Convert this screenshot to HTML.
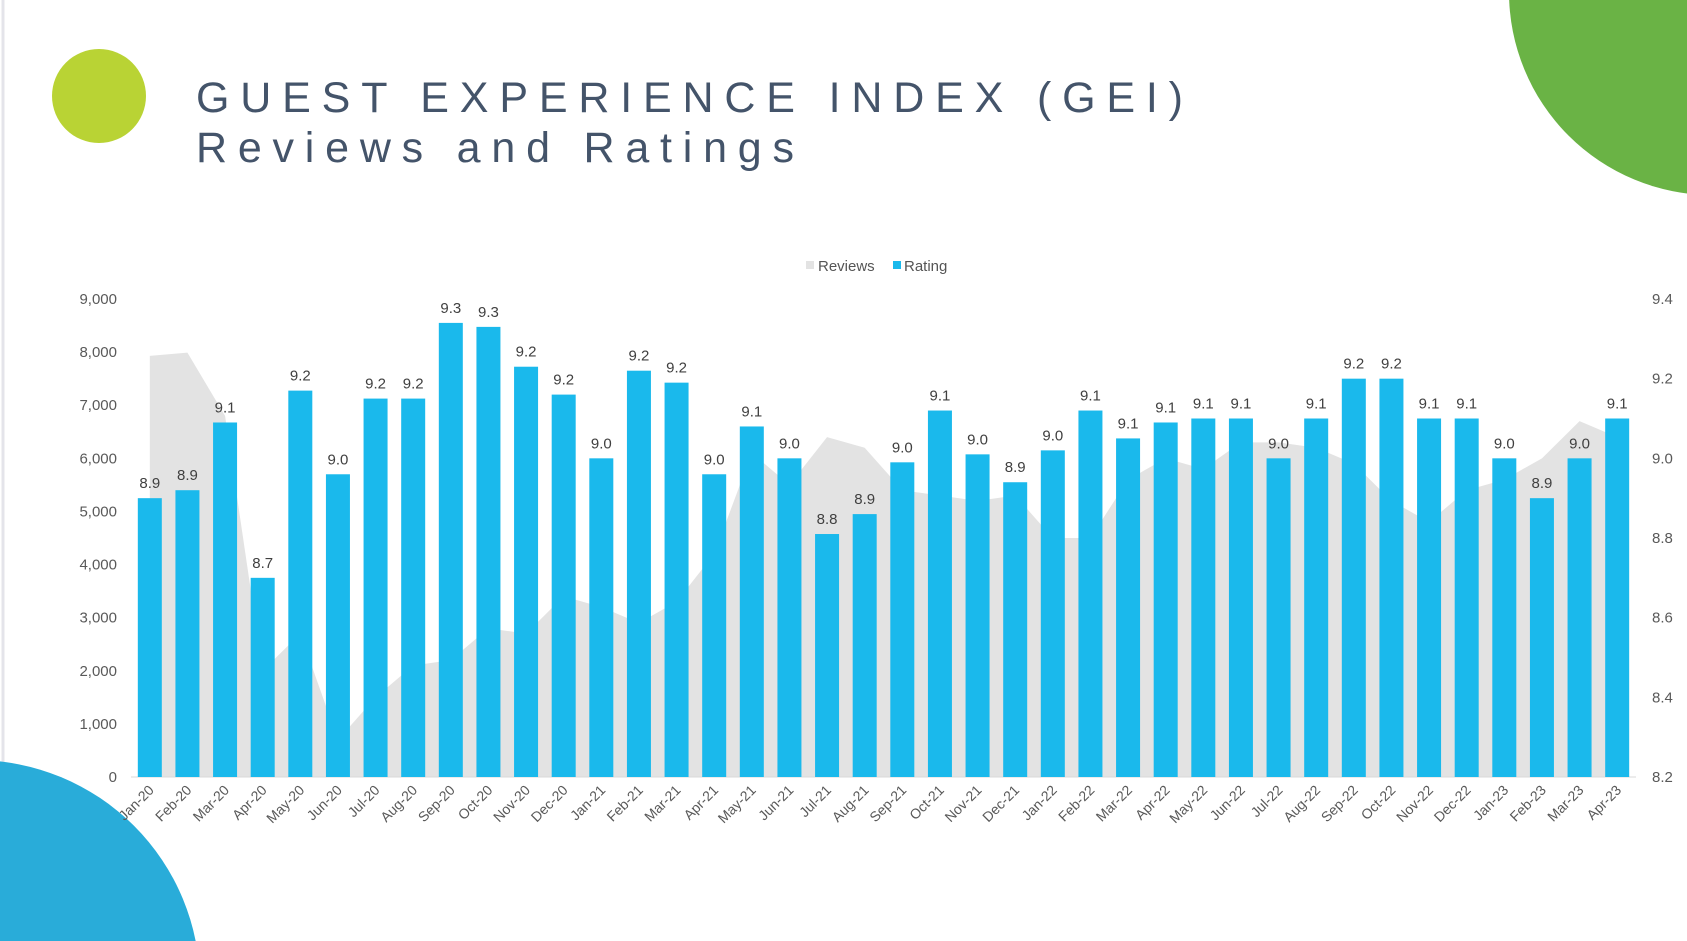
<!DOCTYPE html>
<html><head><meta charset="utf-8"><style>
html,body{margin:0;padding:0;background:#fff;width:1687px;height:941px;overflow:hidden;}
svg{display:block;font-family:"Liberation Sans",Arial,sans-serif;}
</style></head><body>
<svg id="chart" width="1687" height="941" viewBox="0 0 1687 941">
<rect x="0" y="0" width="1687" height="941" fill="#fff"/>
<line x1="3" y1="0" x2="3" y2="941" stroke="#e4e4ea" stroke-width="3"/>
<circle cx="99" cy="96" r="47" fill="#b9d334"/>
<circle cx="1712" cy="-8" r="203" fill="#6ab345"/>
<circle cx="-25" cy="985" r="225" fill="#29acd9"/>
<text x="196" y="112" font-size="43" fill="#44546a" textLength="987" lengthAdjust="spacing">GUEST EXPERIENCE INDEX (GEI)</text>
<text x="196" y="162" font-size="43" fill="#44546a" textLength="598" lengthAdjust="spacing">Reviews and Ratings</text>
<g>
<g><rect x="806" y="261" width="8" height="8" fill="#e3e3e3"/><text x="818" y="271" font-size="15" fill="#555">Reviews</text></g>
<g><rect x="893" y="261" width="8" height="8" fill="#1ab9ec"/><text x="904" y="271" font-size="15" fill="#555">Rating</text></g>
</g>
<g id="plot"></g>
</svg>
<script>
const categories=["Jan-20","Feb-20","Mar-20","Apr-20","May-20","Jun-20","Jul-20","Aug-20","Sep-20","Oct-20","Nov-20","Dec-20","Jan-21","Feb-21","Mar-21","Apr-21","May-21","Jun-21","Jul-21","Aug-21","Sep-21","Oct-21","Nov-21","Dec-21","Jan-22","Feb-22","Mar-22","Apr-22","May-22","Jun-22","Jul-22","Aug-22","Sep-22","Oct-22","Nov-22","Dec-22","Jan-23","Feb-23","Mar-23","Apr-23"];
const ratings=[8.90,8.92,9.09,8.70,9.17,8.96,9.15,9.15,9.34,9.33,9.23,9.16,9.00,9.22,9.19,8.96,9.08,9.00,8.81,8.86,8.99,9.12,9.01,8.94,9.02,9.12,9.05,9.09,9.10,9.10,9.00,9.10,9.20,9.20,9.10,9.10,9.00,8.90,9.00,9.10];
const reviews=[7930,7990,6800,2000,2700,700,1500,2100,2200,2800,2700,3400,3200,2900,3300,4200,6100,5500,6400,6200,5400,5300,5200,5300,4500,4500,5600,6000,5800,6300,6300,6200,5900,5200,4800,5400,5600,6000,6700,6400];
const leftTicks=[0,1000,2000,3000,4000,5000,6000,7000,8000,9000];
const rightTicks=[8.2,8.4,8.6,8.8,9.0,9.2,9.4];
const NS="http://www.w3.org/2000/svg";
const g=document.getElementById('plot');
const y0=777,y1=299,xL=131,xR=1636;
const yL=v=>y0-(v/9000)*(y0-y1);
const yR=v=>y0-((v-8.2)/1.2)*(y0-y1);
const step=(xR-xL)/categories.length;
const xC=i=>xL+step*(i+0.5);
function mk(t,a){const e=document.createElementNS(NS,t);for(const k in a)e.setAttribute(k,a[k]);g.appendChild(e);return e;}
let d=`M${xC(0)},${y0}`;
reviews.forEach((v,i)=>{d+=` L${xC(i)},${yL(v)}`;});
d+=` L${xC(reviews.length-1)},${y0} Z`;
const area=mk('path',{d:d,fill:'#e3e3e3'});


const ax=mk('line',{x1:xL,y1:y0,x2:xR,y2:y0,stroke:'#d9d9d9','stroke-width':1});


leftTicks.forEach(v=>{const t=mk('text',{x:117,y:yL(v)+5,'text-anchor':'end','font-size':15,fill:'#595959'});t.textContent=v.toLocaleString('en-US');

});
rightTicks.forEach(v=>{const t=mk('text',{x:1652,y:yR(v)+5,'font-size':15,fill:'#595959'});t.textContent=v.toFixed(1);

});
const bw=24;
ratings.forEach((v,i)=>{
const b=mk('rect',{x:xC(i)-bw/2,y:yR(v),width:bw,height:y0-yR(v),fill:'#1ab9ec'});


const l=mk('text',{x:xC(i),y:yR(v)-10,'text-anchor':'middle','font-size':15,fill:'#404040'});l.textContent=(Math.round(v*10)/10).toFixed(1);


const c=mk('text',{x:xC(i)+5,y:y0+14,'text-anchor':'end','font-size':14,fill:'#595959',transform:`rotate(-45 ${xC(i)+5} ${y0+14})`});c.textContent=categories[i];


});
</script>
</body></html>
